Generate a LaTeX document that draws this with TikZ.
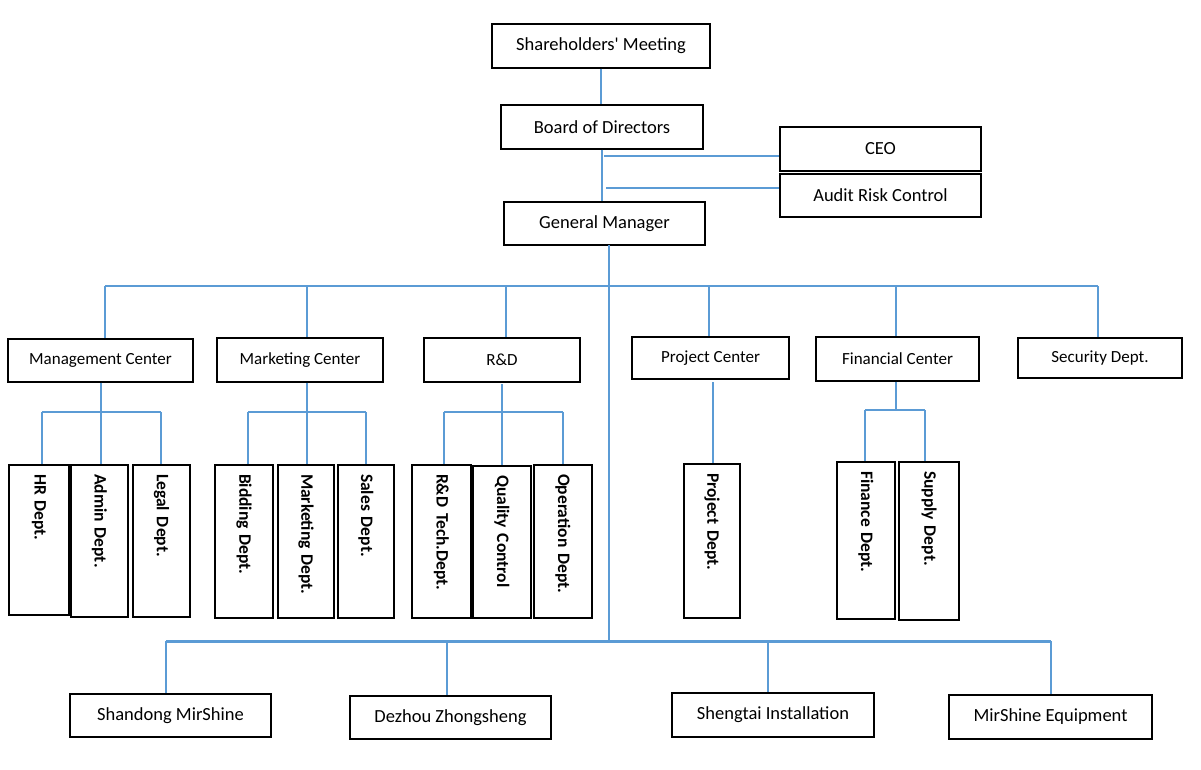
\documentclass[tikz,border=0pt]{standalone}
\usepackage{fontspec}
\setmainfont{Carlito}[Ligatures=TeXOff]
\definecolor{lnk}{RGB}{91,155,213}
\begin{document}
\begin{tikzpicture}[x=1pt,y=-1pt,
  box/.style={draw=black, line width=1.2pt, fill=white, inner sep=0pt, font=\fontsize{18.5}{20}\selectfont},
  midbox/.style={box, font=\fontsize{17}{19}\selectfont},
  vbox/.style={draw=black, line width=1.2pt, fill=white, rotate=-90, inner ysep=0pt, inner xsep=9pt, align=left, font=\fontsize{17.5}{19}\bfseries},
  link/.style={draw=lnk, line width=2.4pt},
  thinlink/.style={draw=lnk, line width=1.5pt},
  busline/.style={draw=lnk, line width=3pt}]
\useasboundingbox[fill=white] (0,0) rectangle (1201,770);

% top
\node[box, minimum width=218, minimum height=44] (sm) at (601,46) {Shareholders' Meeting};
\node[box, minimum width=202, minimum height=44] (bd) at (602,127) {Board of Directors};
\node[box, minimum width=201, minimum height=44] (ceo) at (880.5,149) {CEO};
\node[box, minimum width=201, minimum height=43] (arc) at (880.5,195.5) {Audit Risk Control};
\node[box, minimum width=201, minimum height=43] (gm) at (604.5,223.5) {General Manager};

% second level
\node[midbox, minimum width=185, minimum height=43] (mc) at (100.5,360.5) {Management Center};
\node[midbox, minimum width=166, minimum height=44] (mk) at (300,360) {Marketing Center};
\node[midbox, minimum width=156, minimum height=44] (rd) at (502,360) {R\&D};
\node[midbox, minimum width=157, minimum height=42] (pc) at (710.5,358) {Project Center};
\node[midbox, minimum width=163, minimum height=44] (fc) at (897.5,359) {Financial Center};
\node[midbox, minimum width=164, minimum height=40] (sd) at (1100,358) {Security Dept.};

% junction coordinates
\coordinate (ceoJ) at (604,156);
\coordinate (arcJ) at (606,188);
\coordinate (gmB) at (609,245);
\coordinate (busL) at (105,286);
\coordinate (busR) at (1098,286);
\coordinate (spineEnd) at (609,641);
\coordinate (botL) at (166,641);
\coordinate (botR) at (1051,641);

% top connectors
\draw[link] (sm.south) -- (sm.south |- bd.north);
\draw[link] (bd.south) -- (bd.south |- gm.north);
\draw[link] (ceoJ) -- (ceoJ -| ceo.west);
\draw[link] (arcJ) -- (arcJ -| arc.west);
\draw[link] (gmB) -- (spineEnd);
\draw[link] (busL) -- (busR);

% bus to second level
\draw[link] (busL) -- (busL |- mc.north);
\draw[link] (busL -| 307,0) -- (307,0 |- mk.north);
\draw[link] (busL -| 506,0) -- (506,0 |- rd.north);
\draw[link] (busL -| 709,0) -- (709,0 |- pc.north);
\draw[link] (busL -| 896,0) -- (896,0 |- fc.north);
\draw[link] (busR) -- (busR |- sd.north);

% departments (vertical)
\node[vbox, text width=132pt, minimum height=60] (hr) at (39,540) {HR Dept.};
\node[vbox, text width=134pt, minimum height=57] (ad) at (99.5,541) {Admin Dept.};
\node[vbox, text width=134pt, minimum height=57] (lg) at (161.5,541) {Legal Dept.};
\node[vbox, text width=135pt, minimum height=58] (bi) at (244,541.5) {Bidding Dept.};
\node[vbox, text width=135pt, minimum height=56] (mkd) at (306,541.5) {Marketing Dept.};
\node[vbox, text width=135pt, minimum height=56] (sa) at (366,541.5) {Sales Dept.};
\node[vbox, text width=135pt, minimum height=59] (rt) at (441.5,541.5) {R\&D Tech.Dept.};
\node[vbox, text width=134pt, minimum height=58] (qc) at (502,542) {Quality Control};
\node[vbox, text width=135pt, minimum height=58] (op) at (563,541.5) {Operation Dept.};
\node[vbox, text width=136pt, minimum height=56] (pd) at (712,541) {Project Dept.};
\node[vbox, text width=139pt, minimum height=58] (fd) at (866,540.5) {Finance Dept.};
\node[vbox, text width=140pt, minimum height=60] (su) at (929,541) {Supply Dept.};

% subsidiaries
\node[box, minimum width=201, minimum height=43] (sh) at (170.5,715.5) {Shandong MirShine};
\node[box, minimum width=201, minimum height=43] (dz) at (450.5,717.5) {Dezhou Zhongsheng};
\node[box, minimum width=202, minimum height=44] (st) at (773,715) {Shengtai Installation};
\node[box, minimum width=203, minimum height=44] (me) at (1050.5,717) {MirShine Equipment};

% Management Center
\coordinate (mcJ) at (101,412);
\draw[link] (mcJ |- mc.south) -- (mcJ);
\draw[link] (42,412) -- (161,412);
\draw[link] (42,412) -- (42,0 |- hr.west);
\draw[link] (mcJ) -- (mcJ |- ad.west);
\draw[link] (161,412) -- (161,0 |- lg.west);

% Marketing Center
\coordinate (mkJ) at (307,412);
\draw[link] (mkJ |- mk.south) -- (mkJ);
\draw[link] (248,412) -- (366,412);
\draw[link] (248,412) -- (248,0 |- bi.west);
\draw[link] (mkJ) -- (mkJ |- mkd.west);
\draw[link] (366,412) -- (366,0 |- sa.west);

% R&D
\coordinate (rdJ) at (502,412);
\draw[link] (502,384) -- (rdJ);
\draw[link] (444,412) -- (563,412);
\draw[link] (444,412) -- (444,0 |- rt.west);
\draw[link] (rdJ) -- (rdJ |- qc.west);
\draw[link] (563,412) -- (563,0 |- op.west);

% Project Center
\draw[link] (713,382) -- (713,0 |- pd.west);

% Financial Center
\coordinate (fcJ) at (896,410);
\draw[link] (fcJ |- fc.south) -- (fcJ);
\draw[link] (865,410) -- (925,410);
\draw[link] (865,410) -- (865,0 |- fd.west);
\draw[link] (925,410) -- (925,0 |- su.west);

% subsidiaries
\draw[busline] (botL) -- (botR);
\draw[thinlink] (botL) -- (botL |- sh.north);
\draw[thinlink] (447,641) -- (447,0 |- dz.north);
\draw[thinlink] (768,641) -- (768,0 |- st.north);
\draw[thinlink] (botR) -- (botR |- me.north);
\end{tikzpicture}
\end{document}
